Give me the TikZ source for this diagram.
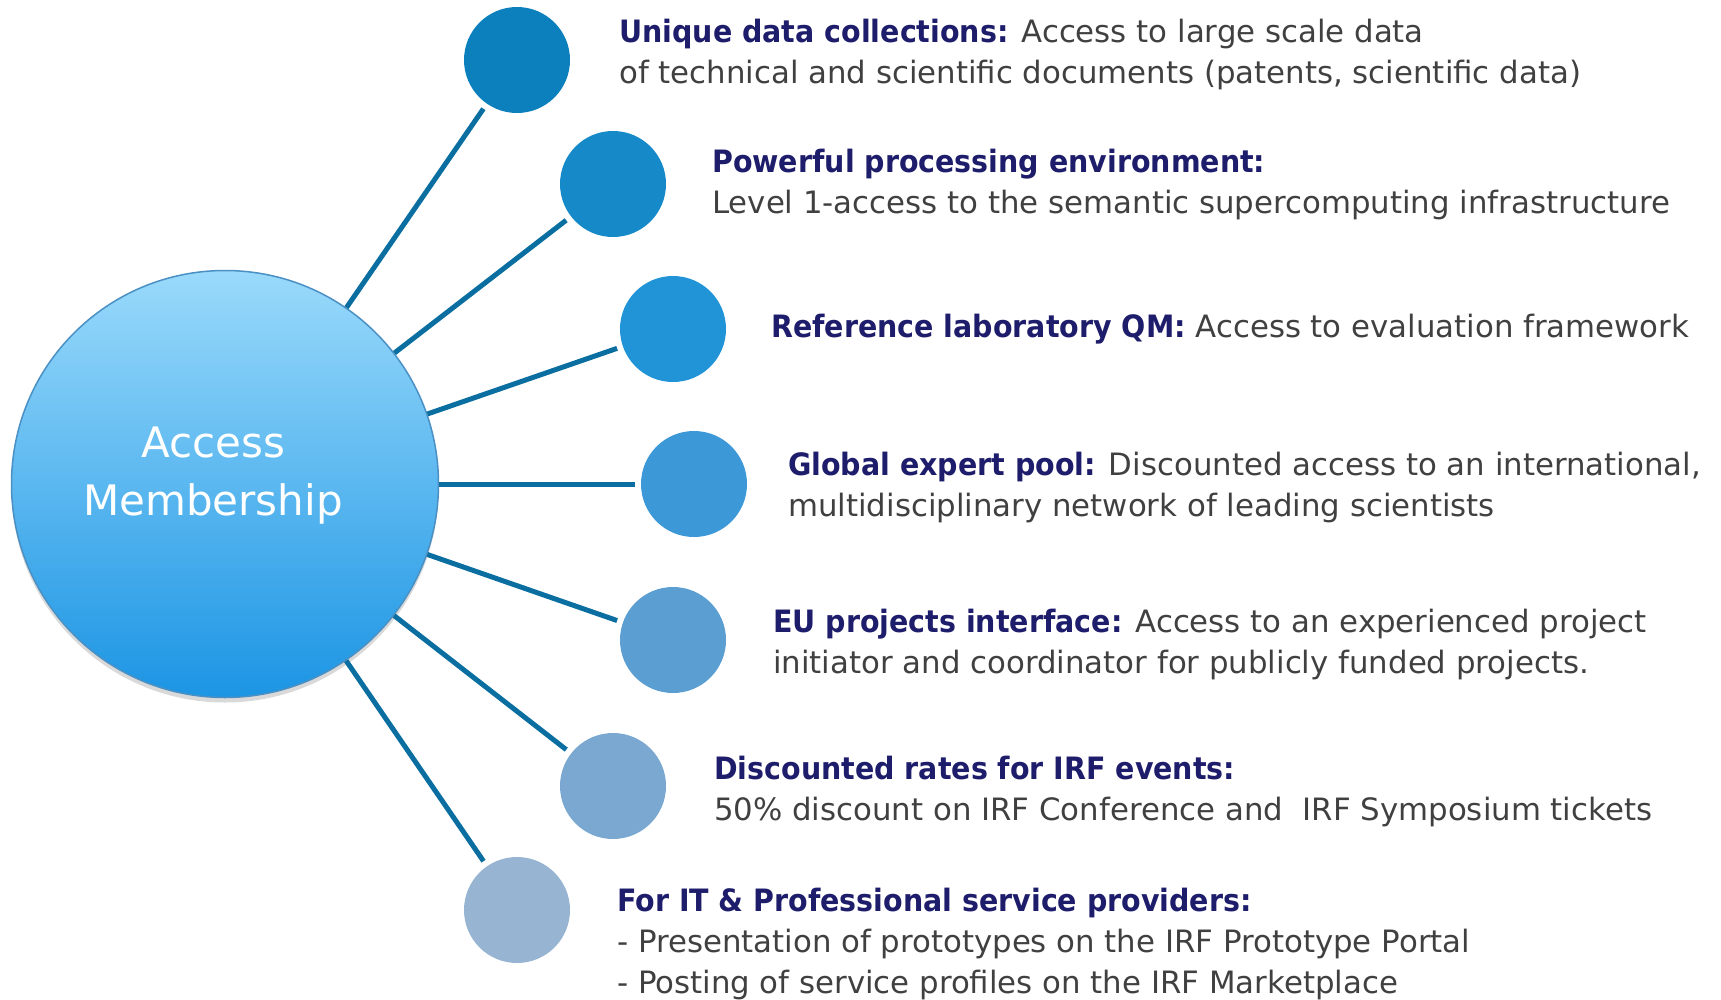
\documentclass[tikz,border=0pt]{standalone}
\usepackage{fontspec}
\setmainfont{DejaVu Sans}[BoldFeatures={FakeStretch=0.925}]
\usetikzlibrary{shadows}

\definecolor{navy}{HTML}{1E1D6B}
\definecolor{bodygray}{HTML}{404040}
\definecolor{spokeblue}{HTML}{0A6FA0}
\definecolor{dotA}{HTML}{0B80BC}
\definecolor{dotB}{HTML}{168AC9}
\definecolor{dotC}{HTML}{2193D7}
\definecolor{dotD}{HTML}{3C98D6}
\definecolor{dotE}{HTML}{5B9FD2}
\definecolor{dotF}{HTML}{7AA8D1}
\definecolor{dotG}{HTML}{97B4D2}

\tikzstyle{hub} = [circle,minimum size=427pt,inner sep=0pt,draw=hubrim,line width=1.5pt,top color=hubtop,middle color=hubmid,bottom color=hubbot,drop shadow={opacity=0.3,shadow xshift=0pt,shadow yshift=-5pt}]
\tikzstyle{hubtext} = [anchor=base,align=center,inner sep=0pt,text=white,font=\fontsize{42}{58}\selectfont]
\tikzstyle{dot} = [circle,minimum size=106pt,inner sep=0pt]
\tikzstyle{spoke} = [line width=5pt,draw=spokeblue,shorten >=6pt]
\tikzstyle{item} = [anchor=base west,align=left,inner sep=0pt,text=bodygray,font=\fontsize{30.8}{41}\selectfont]
\definecolor{hubtop}{HTML}{9ADAFB}
\definecolor{hubmid}{HTML}{7EC4F8}
\definecolor{hubbot}{HTML}{1C95E4}
\definecolor{hubrim}{HTML}{4A90C4}
\newcommand{\hd}[1]{{\bfseries\color{navy}#1}}

\begin{document}
\begin{tikzpicture}[x=1pt,y=-1pt]
\useasboundingbox (0,0) rectangle (1721,999);

% Centre circle
\node [hub] (hub) at (225,484) {};
\node [hubtext] (hublabel) at (213,515) {Access\\Membership};

% Small circles
\node [dot,fill=dotA] (d1) at (517,60) {};
\node [dot,fill=dotB] (d2) at (613,184) {};
\node [dot,fill=dotC] (d3) at (673,329) {};
\node [dot,fill=dotD] (d4) at (694,484) {};
\node [dot,fill=dotE] (d5) at (673,640) {};
\node [dot,fill=dotF] (d6) at (613,786) {};
\node [dot,fill=dotG] (d7) at (517,910) {};

% Spokes
\draw [spoke] (hub) -- (d1);
\draw [spoke] (hub) -- (d2);
\draw [spoke] (hub) -- (d3);
\draw [spoke] (hub) -- (d4);
\draw [spoke] (hub) -- (d5);
\draw [spoke] (hub) -- (d6);
\draw [spoke] (hub) -- (d7);

% Texts (placed at the baseline of the last line)
\node [item] (t1) at (619,83) {\hd{Unique data collections:} Access to large scale data\\of technical and scientific documents (patents, scientific data)};
\node [item] (t2) at (712,213) {\hd{Powerful processing environment:}\\Level 1-access to the semantic supercomputing infrastructure};
\node [item] (t3) at (771,337) {\hd{Reference laboratory QM:} Access to evaluation framework};
\node [item] (t4) at (788,516) {\hd{Global expert pool:} Discounted access to an international,\\multidisciplinary network of leading scientists};
\node [item] (t5) at (773,673) {\hd{EU projects interface:} Access to an experienced project\\initiator and coordinator for publicly funded projects.};
\node [item] (t6) at (714,820) {\hd{Discounted rates for IRF events:}\\50\% discount on IRF Conference and\ \ IRF Symposium tickets};
\node [item] (t7) at (617,993) {\hd{For IT \& Professional service providers:}\\- Presentation of prototypes on the IRF Prototype Portal\\- Posting of service profiles on the IRF Marketplace};

\end{tikzpicture}
\end{document}
